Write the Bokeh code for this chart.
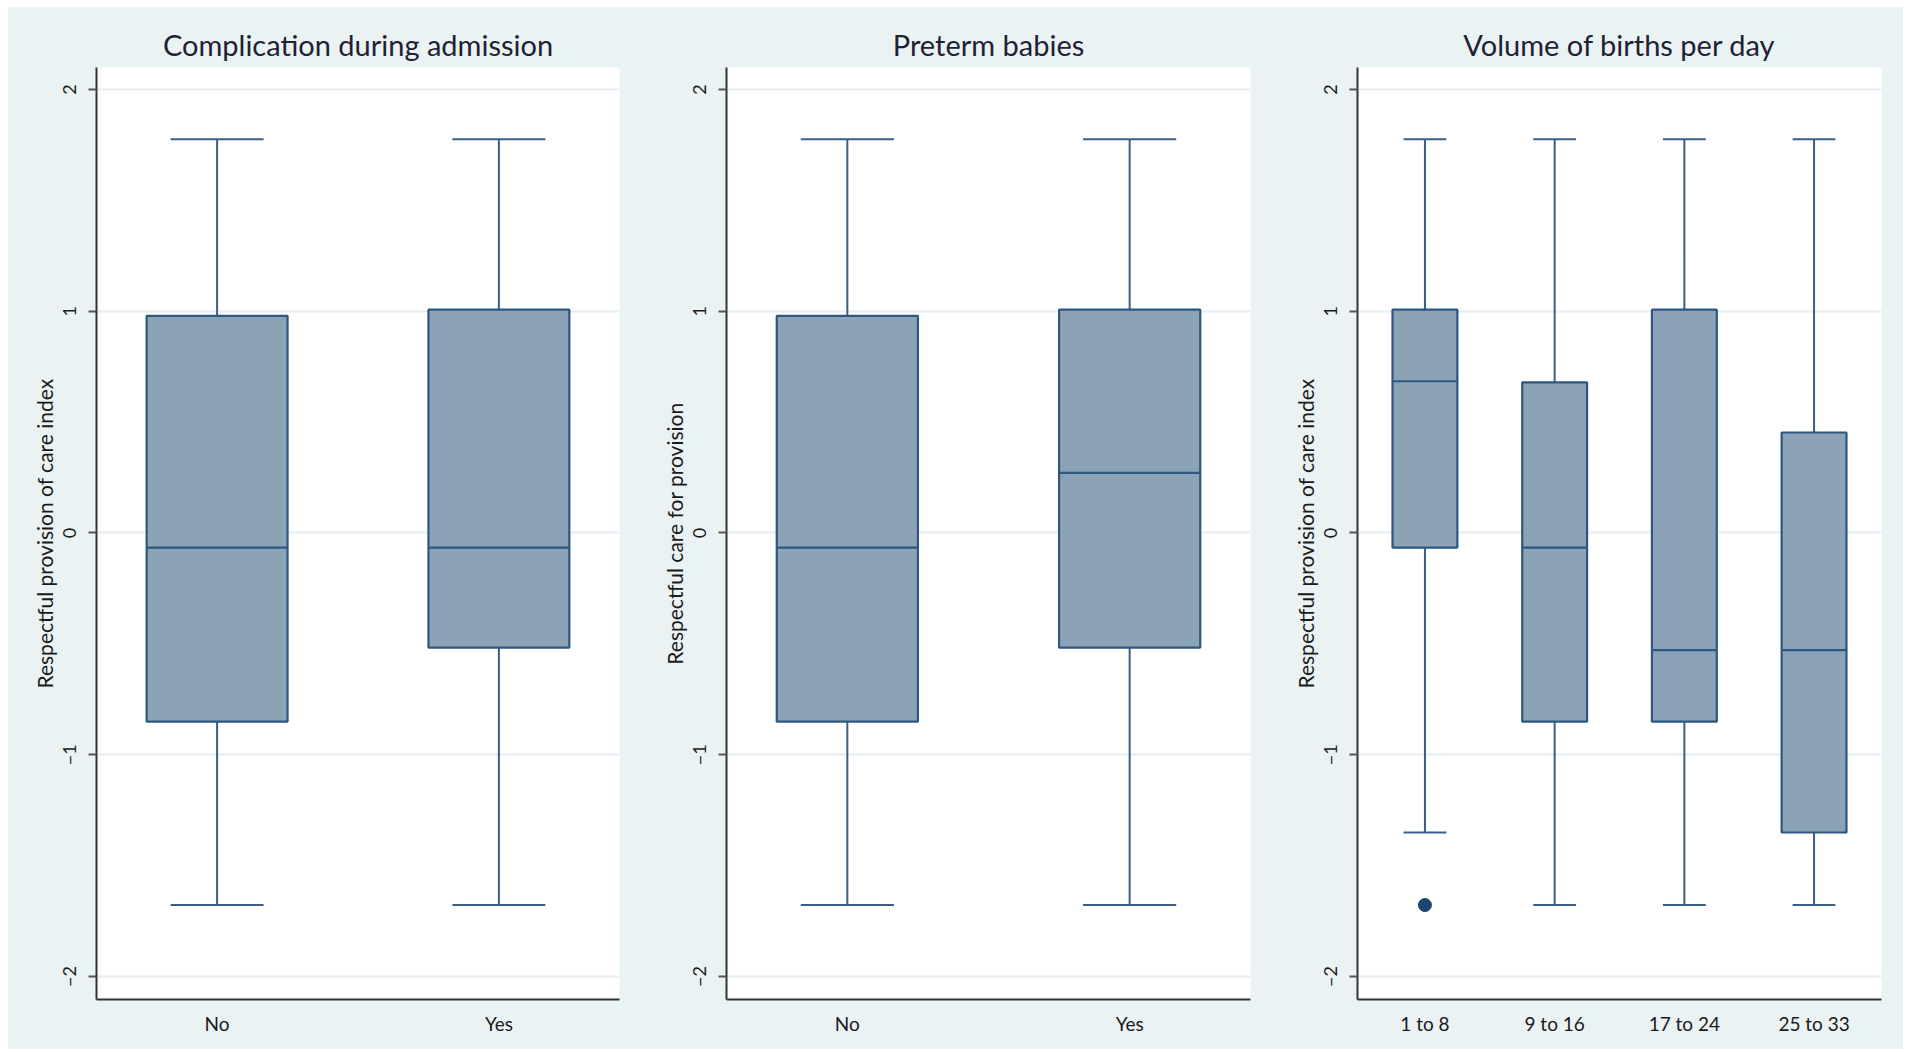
from bokeh.plotting import figure
from bokeh.layouts import row
from bokeh.models import Range1d, FixedTicker
from bokeh.embed import file_html
from bokeh.resources import INLINE

# ---------------- data ----------------
p1_title = "Complication during admission"
p1_ylabel = "Respectful provision of care index"
p1_cats = ["No", "Yes"]
p1_upper = [1.775, 1.775]
p1_q3 = [0.979, 1.007]
p1_med = [-0.066, -0.066]
p1_q1 = [-0.851, -0.517]
p1_lower = [-1.678, -1.678]

p2_title = "Preterm babies"
p2_ylabel = "Respectful care for provision"
p2_cats = ["No", "Yes"]
p2_upper = [1.775, 1.775]
p2_q3 = [0.979, 1.007]
p2_med = [-0.066, 0.271]
p2_q1 = [-0.851, -0.517]
p2_lower = [-1.678, -1.678]

p3_title = "Volume of births per day"
p3_ylabel = "Respectful provision of care index"
p3_cats = ["1 to 8", "9 to 16", "17 to 24", "25 to 33"]
p3_upper = [1.775, 1.775, 1.775, 1.775]
p3_q3 = [1.007, 0.679, 1.007, 0.453]
p3_med = [0.684, -0.066, -0.528, -0.528]
p3_q1 = [-0.066, -0.851, -0.851, -1.351]
p3_lower = [-1.351, -1.678, -1.678, -1.678]
p3_out_cat = ["1 to 8"]
p3_out_val = [-1.678]

y_ticks = [-2, -1, 0, 1, 2]

# ---------------- style ----------------
BG = "#EAF2F3"
GRID = "#E6EEF1"
BOX_FILL = "#8CA3B7"
BOX_LINE = "#2C5780"
WHISK = "#3A5F87"
OUT = "#1A476F"
FONT = "Lato"


def panel(title, ylabel, cats, lower, q1, med, q3, upper, width, bl, br,
          pad, out_cat=None, out_val=None):
    xs = list(range(1, len(cats) + 1))
    p = figure(width=width, height=1042, output_backend="svg",
               toolbar_location=None, title=title,
               x_range=Range1d(1 - pad, len(cats) + pad),
               y_range=Range1d(-2.104, 2.099),
               min_border_left=bl, min_border_right=br,
               min_border_top=60, min_border_bottom=50)
    p.border_fill_color = BG
    p.background_fill_color = "white"
    p.outline_line_color = None

    p.title.align = "center"
    p.title.text_font = FONT
    p.title.text_font_size = "29px"
    p.title.text_font_style = "normal"
    p.title.text_color = "#1E2233"
    p.title.standoff = 12

    # axes
    p.xaxis.ticker = FixedTicker(ticks=xs)
    p.xaxis.major_label_overrides = {x: c for x, c in zip(xs, cats)}
    p.xaxis.major_tick_out = 0
    p.xaxis.major_tick_in = 0
    p.xaxis.minor_tick_line_color = None
    p.xaxis.major_label_standoff = 12
    p.xaxis.major_label_text_font = FONT
    p.xaxis.major_label_text_font_size = "19px"
    p.xaxis.major_label_text_color = "#1a1a1a"
    p.xaxis.axis_line_color = "#333333"
    p.xaxis.axis_line_width = 2

    p.yaxis.ticker = FixedTicker(ticks=y_ticks)
    p.yaxis.major_label_orientation = "vertical"
    p.yaxis.major_tick_out = 8
    p.yaxis.major_tick_in = 0
    p.yaxis.major_tick_line_color = "#555555"
    p.yaxis.major_tick_line_width = 2
    p.yaxis.minor_tick_line_color = None
    p.yaxis.major_label_standoff = 12
    p.yaxis.major_label_text_font = FONT
    p.yaxis.major_label_text_font_size = "18px"
    p.yaxis.major_label_text_color = "#1a1a1a"
    p.yaxis.axis_line_color = "#333333"
    p.yaxis.axis_line_width = 2
    p.yaxis.axis_label = ylabel
    p.yaxis.axis_label_text_font = FONT
    p.yaxis.axis_label_text_font_size = "21px"
    p.yaxis.axis_label_text_font_style = "normal"
    p.yaxis.axis_label_text_color = "#1a1a1a"
    p.yaxis.axis_label_standoff = 4

    p.xgrid.grid_line_color = None
    p.ygrid.ticker = FixedTicker(ticks=y_ticks)
    p.ygrid.grid_line_color = GRID
    p.ygrid.grid_line_width = 2

    bw = 0.5
    cw = 0.33
    # whiskers
    p.segment(x0=xs, y0=q3, x1=xs, y1=upper, line_color=WHISK, line_width=2)
    p.segment(x0=xs, y0=q1, x1=xs, y1=lower, line_color=WHISK, line_width=2)
    p.segment(x0=[x - cw / 2 for x in xs], y0=upper,
              x1=[x + cw / 2 for x in xs], y1=upper,
              line_color=WHISK, line_width=2)
    p.segment(x0=[x - cw / 2 for x in xs], y0=lower,
              x1=[x + cw / 2 for x in xs], y1=lower,
              line_color=WHISK, line_width=2)
    # boxes
    p.vbar(x=xs, width=bw, bottom=q1, top=q3, fill_color=BOX_FILL,
           line_color=BOX_LINE, line_width=2.2)
    p.segment(x0=[x - bw / 2 for x in xs], y0=med,
              x1=[x + bw / 2 for x in xs], y1=med,
              line_color=BOX_LINE, line_width=2.2)
    if out_cat:
        ox = [xs[cats.index(c)] for c in out_cat]
        p.scatter(x=ox, y=out_val, size=13, fill_color=OUT, line_color=OUT)
    return p


f1 = panel(p1_title, p1_ylabel, p1_cats, p1_lower, p1_q1, p1_med, p1_q3,
           p1_upper, 632, 88, 21, 0.428)
f2 = panel(p2_title, p2_ylabel, p2_cats, p2_lower, p2_q1, p2_med, p2_q3,
           p2_upper, 632, 86, 22, 0.428)
f3 = panel(p3_title, p3_ylabel, p3_cats, p3_lower, p3_q1, p3_med, p3_q3,
           p3_upper, 631, 85, 22, 0.52, p3_out_cat, p3_out_val)

layout = row(f1, f2, f3, spacing=0, margin=(7, 7, 0, 8),
             styles={"background-color": BG})
open("out.html", "w").write(file_html(layout, INLINE))
